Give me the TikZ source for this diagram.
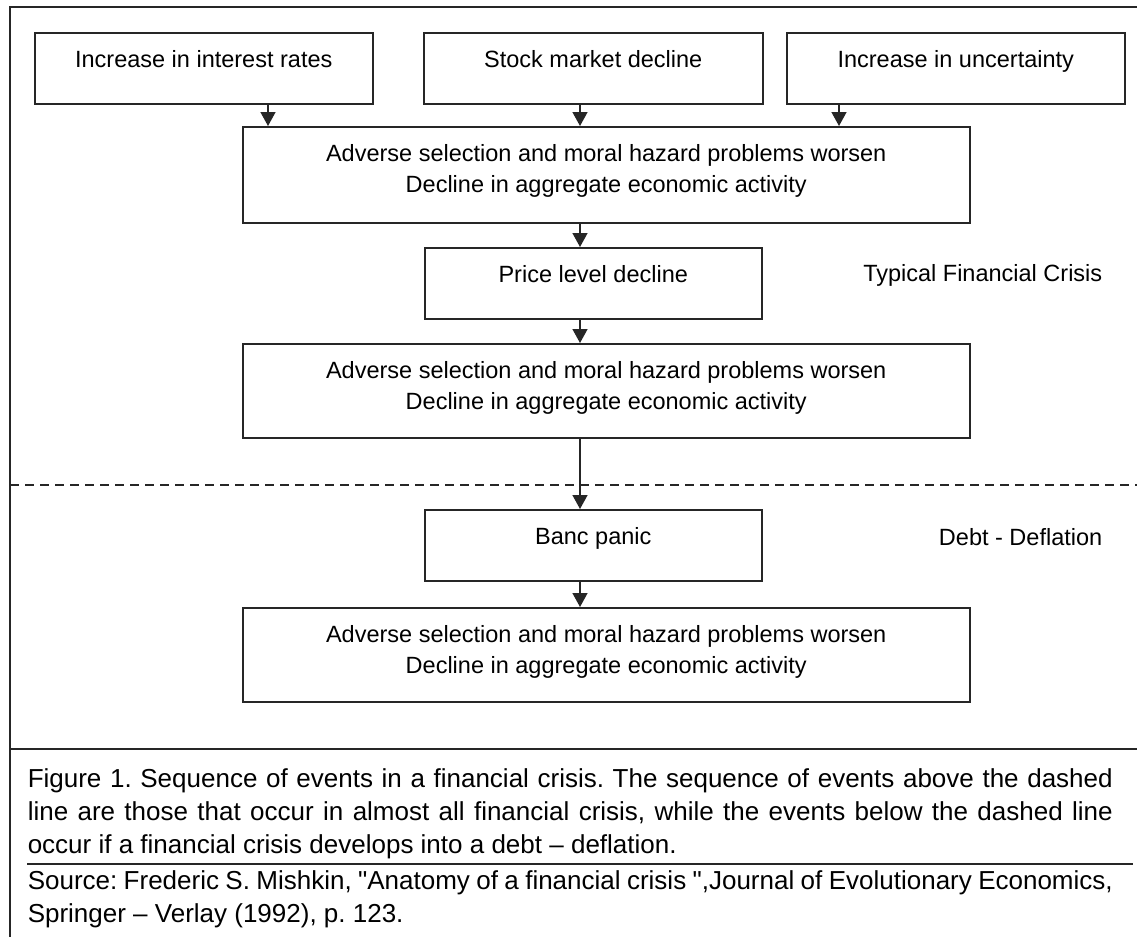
\documentclass[tikz,border=0pt]{standalone}
\usepackage{fontspec}
\setmainfont{Liberation Sans}
\usetikzlibrary{arrows.meta,positioning}
\frenchspacing

\begin{document}
\begin{tikzpicture}[x=1pt, y=-1pt, line width=1.5pt, draw=black!85,
  font=\fontsize{23.5}{31}\selectfont,
  box/.style={draw, inner sep=0pt, anchor=north west, align=center, text height=35pt},
  twobox/.style={box, text height=66pt},
  arr/.style={-{Triangle[width=15pt,length=14pt]}},
  side/.style={anchor=base east, inner sep=0pt},
  note/.style={anchor=base west, inner sep=0pt, text width=1085pt, align=justify,
    font=\fontsize{26}{33}\selectfont,
    execute at begin node={\hyphenpenalty=10000\tolerance=9999}}]
  \useasboundingbox (0,0) rectangle (1137,937);
  % frame
  \draw (1137,7) -- (10,7) -- (10,937);
  % causes
  \node[box, minimum width=338pt, text depth=36pt] (rates) at (34,32) {Increase in interest rates};
  \node[box, minimum width=339pt, text depth=36pt] (stock) at (423,32) {Stock market decline};
  \node[box, minimum width=338pt, text depth=36pt] (uncert) at (786,32) {Increase in uncertainty};
  % chain
  \node[twobox, minimum width=727pt, text depth=30pt] (worse1) at (242,126)
    {Adverse selection and moral hazard problems worsen\\Decline in aggregate economic activity};
  \node[box, minimum width=337pt, text depth=36pt] (price) at (424,247) {Price level decline};
  \node[twobox, minimum width=727pt, text depth=28pt] (worse2) at (242,343)
    {Adverse selection and moral hazard problems worsen\\Decline in aggregate economic activity};
  \node[box, minimum width=337pt, text depth=36pt] (panic) at (424,509) {Banc panic};
  \node[twobox, minimum width=727pt, text depth=28pt] (worse3) at (242,607)
    {Adverse selection and moral hazard problems worsen\\Decline in aggregate economic activity};
  % side labels
  \node[side] (typical) at (1103,281) {Typical Financial Crisis};
  \node[side] (debt) at (1103,545) {Debt - Deflation};
  % arrows
  \coordinate (colA) at (268,0);
  \coordinate (colB) at (580,0);
  \coordinate (colC) at (839,0);
  \draw[arr] (rates.south -| colA) -- (worse1.north -| colA);
  \draw[arr] (stock.south -| colB) -- (worse1.north -| colB);
  \draw[arr] (uncert.south -| colC) -- (worse1.north -| colC);
  \draw[arr] (worse1.south -| colB) -- (price.north -| colB);
  \draw[arr] (price.south -| colB) -- (worse2.north -| colB);
  \draw[arr] (worse2.south -| colB) -- (panic.north -| colB);
  \draw[arr] (panic.south -| colB) -- (worse3.north -| colB);
  % dashed divider
  \draw[line width=1.2pt, dash pattern=on 9pt off 6pt] (10,485) -- (1137,485);
  % caption
  \draw (10,749) -- (1137,749);
  \node[note] (caption) at (27,787) {Figure 1. Sequence of events in a financial crisis. The sequence of events above the dashed\linebreak
    line are those that occur in almost all financial crisis, while the events below the dashed line\linebreak
    occur if a financial crisis develops into a debt -- deflation.};
  \draw (27,864) -- (1133,864);
  \node[note] (source) at (27,889) {Source: Frederic S. Mishkin, \textquotedbl Anatomy of a financial crisis \textquotedbl,Journal of Evolutionary Economics,\linebreak
    Springer -- Verlay (1992), p. 123.};
\end{tikzpicture}
\end{document}
